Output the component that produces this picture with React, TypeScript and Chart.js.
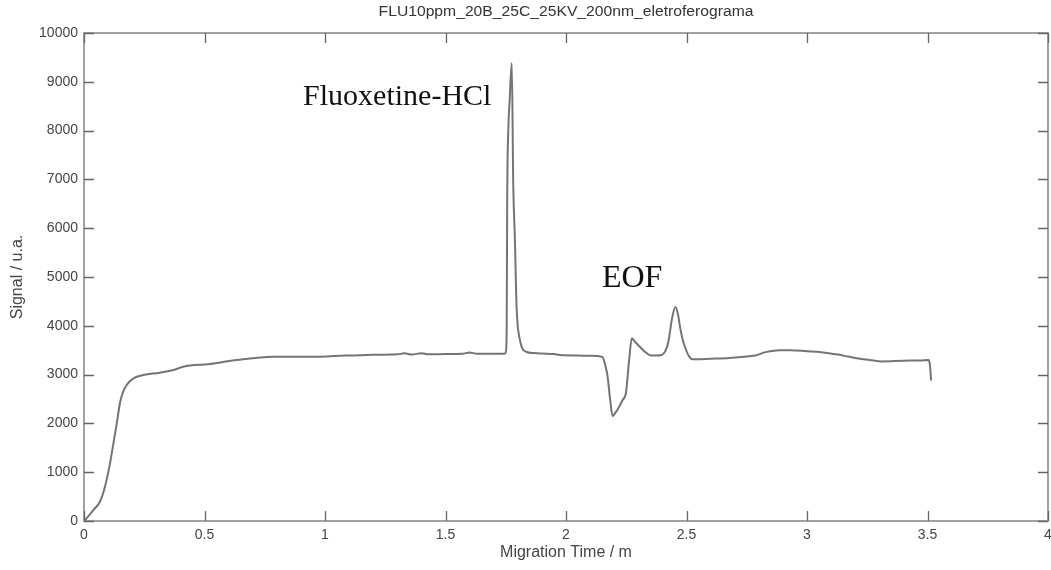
import React, { useEffect, useRef } from "react";
import { Chart, registerables } from "chart.js";

Chart.register(...registerables);

const chartTitle = "FLU10ppm_20B_25C_25KV_200nm_eletroferograma";
const xAxisTitle = "Migration Time / m";
const yAxisTitle = "Signal / u.a.";

const xTicks = [0, 0.5, 1, 1.5, 2, 2.5, 3, 3.5, 4];
const yTicks = [0, 1000, 2000, 3000, 4000, 5000, 6000, 7000, 8000, 9000, 10000];

const migrationTime = [
  0.0, 0.004, 0.039, 0.066, 0.087, 0.108, 0.122, 0.136, 0.149, 0.16, 0.177, 0.205,
  0.246, 0.315, 0.371, 0.412, 0.523, 0.634, 0.786, 0.979, 1.083, 1.145, 1.2, 1.3,
  1.33, 1.36, 1.4, 1.43, 1.5, 1.57, 1.6, 1.63, 1.7, 1.747, 1.751, 1.754, 1.756,
  1.761, 1.766, 1.775, 1.781, 1.788, 1.795, 1.809, 1.837, 1.863, 1.9, 1.95, 1.975,
  2.05, 2.1, 2.151, 2.165, 2.172, 2.183, 2.193, 2.205, 2.214, 2.235, 2.249, 2.262,
  2.273, 2.285, 2.299, 2.325, 2.348, 2.375, 2.397, 2.412, 2.425, 2.44, 2.454, 2.464,
  2.474, 2.485, 2.496, 2.51, 2.524, 2.6, 2.678, 2.75, 2.791, 2.82, 2.847, 2.89,
  2.932, 3.0, 3.06, 3.129, 3.17, 3.213, 3.26, 3.311, 3.4, 3.47, 3.505, 3.51, 3.515,
];

const signal = [
  0, 20, 225, 395, 703, 1182, 1592, 2002, 2412, 2617, 2787, 2924,
  2992, 3039, 3094, 3162, 3217, 3299, 3367, 3367, 3390, 3395, 3405, 3415,
  3435, 3410, 3440, 3415, 3420, 3425, 3455, 3425, 3425, 3430, 3480, 4057, 6578,
  8074, 8600, 9385, 6926, 5758, 4385, 3709, 3463, 3443, 3430, 3420, 3400,
  3390, 3385, 3360, 3150, 2980, 2500, 2150, 2220, 2285, 2480, 2633, 3300,
  3744, 3680, 3606, 3480, 3398, 3390, 3400, 3480, 3674, 4150, 4383, 4250,
  3953, 3700, 3535, 3380, 3313, 3325, 3340, 3370, 3398, 3450, 3480, 3500,
  3500, 3480, 3460, 3410, 3370, 3328, 3300, 3270, 3285, 3290, 3300, 3200, 2880,
];

const annotationTexts = ["Fluoxetine-HCl", "EOF"];
const annotationX = [0.909, 2.149];
const annotationY = [8525, 4795];
const annotationSizes = [30, 32];

const framePlugin = {
  id: "matlabFrame",
  afterDraw(chart: any) {
    const { ctx, chartArea, scales } = chart;
    const { left, right, top, bottom } = chartArea;
    const xs = scales.x;
    const ys = scales.y;
    ctx.save();
    ctx.strokeStyle = "#8a8a8a";
    ctx.lineWidth = 1.6;
    ctx.strokeRect(left, top, right - left, bottom - top);
    ctx.strokeStyle = "#666";
    ctx.lineWidth = 1.3;
    const tl = 10;
    ctx.beginPath();
    xTicks.forEach((v) => {
      const px = Math.round(xs.getPixelForValue(v)) + 0.5;
      ctx.moveTo(px, bottom);
      ctx.lineTo(px, bottom - tl);
      ctx.moveTo(px, top);
      ctx.lineTo(px, top + tl);
    });
    yTicks.forEach((v) => {
      const py = Math.round(ys.getPixelForValue(v)) + 0.5;
      ctx.moveTo(left, py);
      ctx.lineTo(left + tl, py);
      ctx.moveTo(right, py);
      ctx.lineTo(right - tl, py);
    });
    ctx.stroke();
    ctx.fillStyle = "#333";
    ctx.font = "14px 'Liberation Sans', Arial, sans-serif";
    ctx.textAlign = "center";
    ctx.textBaseline = "middle";
    ctx.save();
    ctx.translate((left + right) / 2, 12);
    ctx.scale(1.12, 1);
    ctx.fillText(chartTitle, 0, 0);
    ctx.restore();
    ctx.fillStyle = "#111";
    ctx.textAlign = "left";
    ctx.textBaseline = "alphabetic";
    annotationTexts.forEach((t, i) => {
      ctx.font = `${annotationSizes[i]}px 'Liberation Serif', 'Times New Roman', serif`;
      ctx.fillText(t, xs.getPixelForValue(annotationX[i]), ys.getPixelForValue(annotationY[i]));
    });
    ctx.restore();
  },
};

export default function App() {
  const canvasRef = useRef<HTMLCanvasElement | null>(null);

  useEffect(() => {
    const canvas = canvasRef.current;
    if (!canvas) return;
    Chart.defaults.font.family = "'Liberation Sans', Arial, sans-serif";
    const points = migrationTime.map((t, i) => ({ x: t, y: signal[i] }));
    const chart = new Chart(canvas, {
      type: "line",
      data: {
        datasets: [
          {
            data: points,
            borderColor: "#747474",
            borderWidth: 2,
            pointRadius: 0,
            fill: false,
            cubicInterpolationMode: "monotone",
          },
        ],
      },
      options: {
        animation: false,
        responsive: false,
        devicePixelRatio: 1,
        layout: { padding: { top: 33, right: 3, left: 0, bottom: 0 } },
        plugins: {
          legend: { display: false },
          tooltip: { enabled: false },
          title: { display: false },
        },
        scales: {
          x: {
            type: "linear",
            min: 0,
            max: 4,
            afterBuildTicks: (scale: any) => {
              scale.ticks = xTicks.map((v) => ({ value: v }));
            },
            afterFit: (scale: any) => {
              scale.height = 49;
              scale.paddingLeft = 0;
              scale.paddingRight = 0;
            },
            grid: { display: false, drawTicks: false },
            border: { display: false },
            ticks: {
              padding: 6,
              color: "#444",
              font: { size: 14 },
              maxRotation: 0,
              autoSkip: false,
              callback: (v: any) => String(v),
            },
            title: {
              display: true,
              text: xAxisTitle,
              color: "#444",
              font: { size: 16 },
              padding: { top: 0, bottom: 8 },
            },
          },
          y: {
            type: "linear",
            min: 0,
            max: 10000,
            afterBuildTicks: (scale: any) => {
              scale.ticks = yTicks.map((v) => ({ value: v }));
            },
            afterFit: (scale: any) => {
              scale.width = 84;
              scale.paddingTop = 0;
              scale.paddingBottom = 0;
            },
            grid: { display: false, drawTicks: false },
            border: { display: false },
            ticks: {
              padding: 6,
              color: "#444",
              font: { size: 14 },
              autoSkip: false,
              callback: (v: any) => String(v),
            },
            title: {
              display: true,
              text: yAxisTitle,
              color: "#444",
              font: { size: 16 },
              padding: { top: 8, bottom: 0 },
            },
          },
        },
      },
      plugins: [framePlugin],
    });
    return () => chart.destroy();
  }, []);

  return (
    <div style={{ position: "absolute", left: 0, top: 0, width: 1051, height: 570, background: "#fff" }}>
      <canvas ref={canvasRef} width={1051} height={570} />
    </div>
  );
}
